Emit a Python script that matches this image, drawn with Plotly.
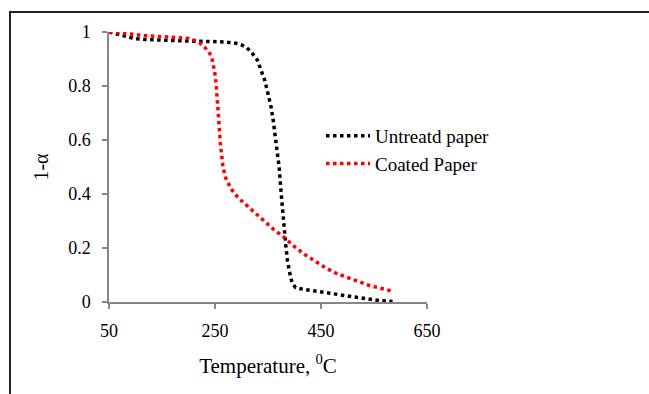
import plotly.graph_objects as go

# Untreated paper (black)
untreated_T = [50, 60, 70, 80, 90, 100, 120, 150, 180, 210, 240, 270, 290, 300, 310,
               320, 330, 338, 344, 349, 353, 356, 360, 363, 367, 371, 375, 378, 381,
               384, 387, 390, 393, 396, 399, 402, 420, 440, 460, 480, 500, 520, 540,
               560, 585]
untreated_v = [1.0, 0.995, 0.99, 0.985, 0.979, 0.975, 0.972, 0.969, 0.967, 0.966, 0.965,
               0.963, 0.958, 0.952, 0.942, 0.922, 0.896, 0.85, 0.82, 0.78, 0.745, 0.72,
               0.67, 0.62, 0.56, 0.5, 0.4, 0.32, 0.265, 0.2, 0.15, 0.115, 0.088, 0.07,
               0.058, 0.053, 0.046, 0.04, 0.033, 0.026, 0.02, 0.014, 0.009, 0.005, 0.002]

# Coated paper (red)
coated_T = [50, 70, 90, 110, 130, 150, 170, 190, 200, 210, 220, 228, 235, 240, 244, 247,
            250, 252, 254, 256, 258, 260, 262, 265, 270, 280, 290, 300, 320, 340, 360,
            380, 400, 420, 440, 460, 480, 500, 520, 540, 560, 585]
coated_v = [1.0, 0.998, 0.993, 0.988, 0.985, 0.983, 0.982, 0.979, 0.976, 0.970, 0.961,
            0.950, 0.935, 0.921, 0.905, 0.88, 0.843, 0.81, 0.74, 0.70, 0.65, 0.59, 0.54,
            0.50, 0.46, 0.42, 0.395, 0.375, 0.34, 0.305, 0.27, 0.24, 0.205, 0.175, 0.15,
            0.125, 0.105, 0.09, 0.075, 0.062, 0.052, 0.04]

x_ticks = [50, 250, 450, 650]
y_ticks = [0, 0.2, 0.4, 0.6, 0.8, 1]
y_ticklabels = ["0", "0.2", "0.4", "0.6", "0.8", "1"]

FONT = "Liberation Serif, Times New Roman, serif"
AXIS_GRAY = "#868686"

fig = go.Figure()
fig.add_trace(go.Scatter(x=untreated_T, y=untreated_v, mode="lines",
                         name="Untreatd paper", legendgroup="a",
                         line=dict(color="black", width=3.5, dash="3.5px,3.5px")))
fig.add_trace(go.Scatter(x=coated_T, y=coated_v, mode="lines",
                         name="Coated Paper", legendgroup="b",
                         line=dict(color="#ff0000", width=3.5, dash="3.5px,3.5px")))

L, R, T, B = 109, 222, 32, 92
W, H = 649, 394
pw, ph = W - L - R, H - T - B

fig.add_shape(type="rect", xref="paper", yref="paper",
              x0=(10 - L) / pw, x1=(700 - L) / pw,
              y0=(H - B - 450) / ph, y1=1 + (T - 12) / ph,
              line=dict(color="#222222", width=2), fillcolor="rgba(0,0,0,0)")

fig.update_layout(
    width=W, height=H,
    margin=dict(l=L, r=R, t=T, b=B),
    paper_bgcolor="white", plot_bgcolor="white",
    font=dict(family=FONT, color="black"),
    showlegend=True,
    legend=dict(x=(321 - L) / pw, y=(H - B - 117) / ph, xanchor="left", yanchor="top",
                font=dict(family=FONT, size=19, color="black"),
                itemwidth=44,
                bgcolor="rgba(0,0,0,0)", tracegroupgap=8, traceorder="normal"),
    xaxis=dict(range=[50, 650], tickvals=x_ticks, ticktext=[str(v) for v in x_ticks],
               showgrid=False, zeroline=False, showline=True, linecolor=AXIS_GRAY,
               linewidth=1.5, ticks="outside", ticklen=5, tickcolor=AXIS_GRAY,
               tickwidth=1.5, tickfont=dict(family=FONT, size=18, color="black"),
               ticklabelstandoff=7,
               title=dict(text="Temperature, <sup>0</sup>C", standoff=18,
                          font=dict(family=FONT, size=21, color="black"))),
    yaxis=dict(range=[0, 1], tickvals=y_ticks, ticktext=y_ticklabels,
               showgrid=False, zeroline=False, showline=True, linecolor=AXIS_GRAY,
               linewidth=1.5, ticks="outside", ticklen=5, tickcolor=AXIS_GRAY,
               tickwidth=1.5, tickfont=dict(family=FONT, size=18, color="black"),
               ticklabelstandoff=8,
               title=dict(text="1-α", standoff=14,
                          font=dict(family=FONT, size=20, color="black"))),
)

fig.write_html("out.html")
